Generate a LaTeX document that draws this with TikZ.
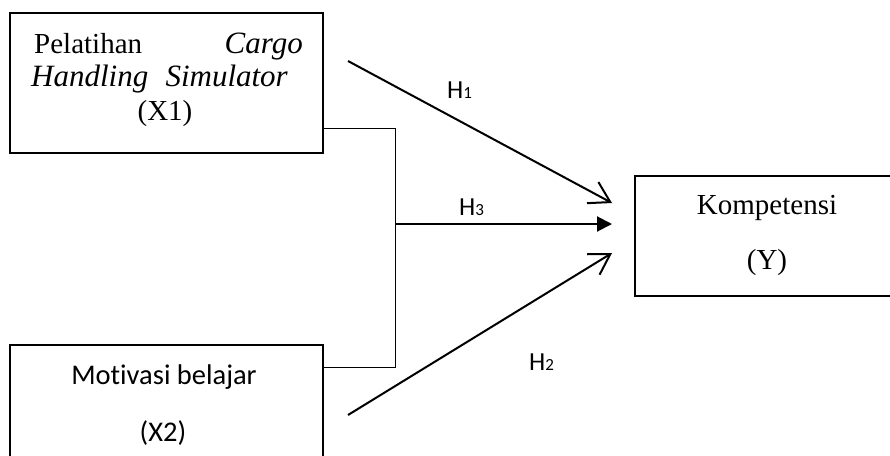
\documentclass[tikz,border=0pt]{standalone}
\usepackage{fontspec}
\setmainfont{Liberation Serif}
\newfontfamily\calfont[Ligatures=CommonOff]{Carlito}
\usetikzlibrary{arrows.meta}
\begin{document}
\begin{tikzpicture}[x=1pt,y=-1pt,
  boxnode/.style={draw,line width=1.5pt,inner sep=0pt,rectangle},
  serif/.style={font=\fontsize{29}{33}\selectfont,inner sep=0pt},
  serifit/.style={font=\fontsize{31}{35}\selectfont\itshape,inner sep=0pt},
  sans/.style={font=\calfont\fontsize{28.5}{33}\selectfont,inner sep=0pt},
  hlabel/.style={font=\calfont\fontsize{26}{28}\selectfont,inner sep=0pt,anchor=base west},
  thin/.style={line width=1pt},
  arr/.style={line width=2pt},
  openarr/.style={arr,-{Straight Barb[length=20pt,width=24pt,line width=2pt]}},
  fillarr/.style={arr,-{Triangle[length=15pt,width=15pt]}}]
\useasboundingbox (0,0) rectangle (890,455);
% boxes
\node[boxnode,minimum width=313pt,minimum height=140pt] (x1) at (166.5,83) {};
\node[boxnode,minimum width=313pt,minimum height=130pt] (x2) at (166.5,410) {};
\node[boxnode,minimum width=262pt,minimum height=120pt] (y) at (766,236) {};
% texts
\node[serif,anchor=base west] (t1a) at (34,53) {Pelatihan};
\node[serifit,anchor=base east] (t1b) at (303,53) {Cargo};
\node[serifit,anchor=base west] (t1c) at (31,86) {Handling};
\node[serifit,anchor=base east] (t1e) at (288,86) {Simulator};
\node[serif,anchor=base] (t1d) at (165,120) {(X1)};
\node[sans,anchor=base] (t2a) at (164,384) {Motivasi belajar};
\node[sans,anchor=base] (t2b) at (163,441) {(X2)};
\node[serif,anchor=base] (t3a) at (767,214) {Kompetensi};
\node[serif,anchor=base] (t3b) at (767,269) {(Y)};
% junction
\coordinate (j1) at (395,128);
\coordinate (j2) at (395,367);
\coordinate (j3) at (395,224);
\draw[thin] (x1.east |- j1) -- (j1) -- (j2) -- (x2.east |- j2);
% arrows
\coordinate (a1s) at (348,61);
\coordinate (a1e) at (612,203);
\coordinate (a2s) at (348,415);
\coordinate (a2e) at (612,253);
\coordinate (a3e) at (612,224);
\draw[openarr] (a1s) -- (a1e);
\draw[openarr] (a2s) -- (a2e);
\draw[fillarr] (j3) -- (a3e);
% labels
\node[hlabel] (h1) at (447,98) {H\fontsize{17}{20}\selectfont 1};
\node[hlabel] (h3) at (459,215) {H\fontsize{17}{20}\selectfont 3};
\node[hlabel] (h2) at (529,370) {H\fontsize{17}{20}\selectfont 2};
\end{tikzpicture}
\end{document}
